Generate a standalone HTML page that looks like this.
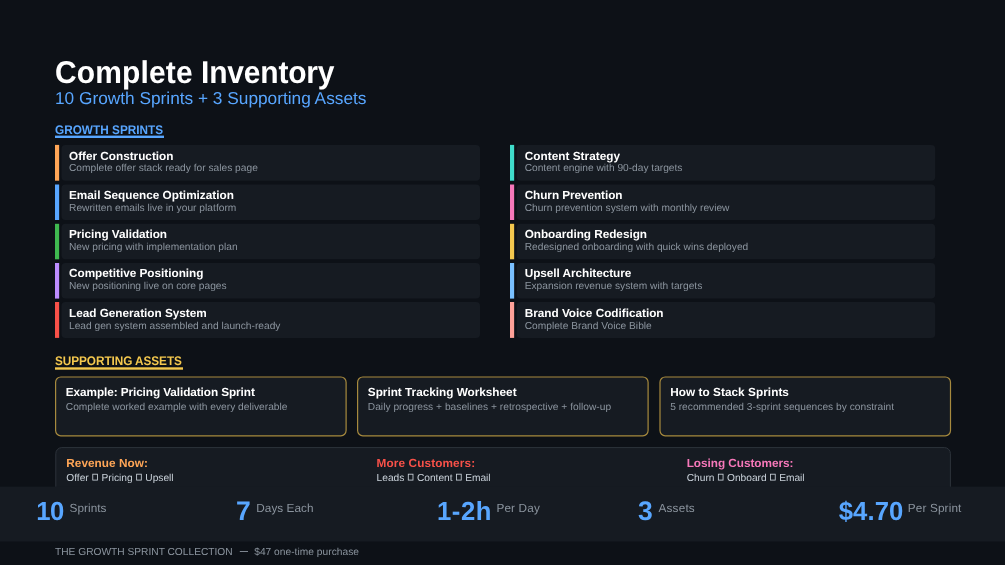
<!DOCTYPE html>
<html><head><meta charset="utf-8"><title>Complete Inventory</title>
<style>
*{margin:0;padding:0}
html,body{width:1005px;height:565px;overflow:hidden;background:#0d1117}
#w{position:absolute;left:0;top:0;width:1005px;height:565px;will-change:transform}
svg{display:block}
text{font-family:"Liberation Sans",sans-serif;white-space:pre}
</style></head><body><div id="w">
<svg width="1005" height="565" viewBox="0 0 1005 565" text-rendering="geometricPrecision">
<rect x="0" y="0" width="1005" height="565" fill="#0d1117"/>
<rect x="55.00" y="135.60" width="109.00" height="2.40" fill="#58a6ff"/>
<rect x="55.00" y="144.90" width="4.15" height="35.80" fill="#ffa657"/>
<rect x="61.50" y="144.90" width="418.50" height="35.80" rx="4" fill="#161b22"/>
<rect x="55.00" y="184.50" width="4.15" height="35.50" fill="#58a6ff"/>
<rect x="61.50" y="184.50" width="418.50" height="35.50" rx="4" fill="#161b22"/>
<rect x="55.00" y="223.80" width="4.15" height="35.50" fill="#3fb950"/>
<rect x="61.50" y="223.80" width="418.50" height="35.50" rx="4" fill="#161b22"/>
<rect x="55.00" y="263.00" width="4.15" height="35.60" fill="#bc8cff"/>
<rect x="61.50" y="263.00" width="418.50" height="35.60" rx="4" fill="#161b22"/>
<rect x="55.00" y="302.00" width="4.15" height="35.90" fill="#f85149"/>
<rect x="61.50" y="302.00" width="418.50" height="35.90" rx="4" fill="#161b22"/>
<rect x="510.00" y="144.90" width="4.15" height="35.80" fill="#3fdccb"/>
<rect x="516.70" y="144.90" width="418.50" height="35.80" rx="4" fill="#161b22"/>
<rect x="510.00" y="184.50" width="4.15" height="35.50" fill="#f778ba"/>
<rect x="516.70" y="184.50" width="418.50" height="35.50" rx="4" fill="#161b22"/>
<rect x="510.00" y="223.80" width="4.15" height="35.50" fill="#f4c84e"/>
<rect x="516.70" y="223.80" width="418.50" height="35.50" rx="4" fill="#161b22"/>
<rect x="510.00" y="263.00" width="4.15" height="35.60" fill="#79c0ff"/>
<rect x="516.70" y="263.00" width="418.50" height="35.60" rx="4" fill="#161b22"/>
<rect x="510.00" y="302.00" width="4.15" height="35.90" fill="#ffa198"/>
<rect x="516.70" y="302.00" width="418.50" height="35.90" rx="4" fill="#161b22"/>
<rect x="55.00" y="367.30" width="128.00" height="2.40" fill="#f4c84e"/>
<rect x="55.60" y="377.00" width="290.50" height="58.80" rx="5.2" fill="#161b22" stroke="#a78a3e" stroke-width="1.2"/>
<rect x="357.60" y="377.00" width="290.50" height="58.80" rx="5.2" fill="#161b22" stroke="#a78a3e" stroke-width="1.2"/>
<rect x="660.00" y="377.00" width="290.50" height="58.80" rx="5.2" fill="#161b22" stroke="#a78a3e" stroke-width="1.2"/>
<rect x="55.80" y="447.60" width="894.60" height="60.00" rx="6" fill="#161b22" stroke="#2d333b" stroke-width="1.0"/>
<text x="55.00" y="83.30" font-size="30.0" font-weight="bold" fill="#ffffff" letter-spacing="0.132" transform="translate(0 83.30) scale(1 1.05) translate(0 -83.30)">Complete</text>
<text x="201.00" y="83.30" font-size="30.0" font-weight="bold" fill="#ffffff" letter-spacing="-0.191" transform="translate(0 83.30) scale(1 1.05) translate(0 -83.30)">Inventory</text>
<text x="55.00" y="103.90" font-size="17.27" fill="#58a6ff">10 Growth Sprints + 3 Supporting Assets</text>
<text x="55.00" y="133.70" font-size="11.78" font-weight="bold" fill="#58a6ff" letter-spacing="0.023" transform="translate(0 133.70) scale(1 1.055) translate(0 -133.70)">GROWTH SPRINTS</text>
<text x="69.00" y="159.50" font-size="11.78" font-weight="bold" fill="#ffffff" letter-spacing="-0.009">Offer Construction</text>
<text x="69.00" y="171.30" font-size="10.2" fill="#8b949e" letter-spacing="0.011">Complete offer stack ready for sales page</text>
<text x="69.00" y="198.80" font-size="11.78" font-weight="bold" fill="#ffffff" letter-spacing="0.005">Email Sequence Optimization</text>
<text x="69.00" y="210.60" font-size="10.2" fill="#8b949e" letter-spacing="0.024">Rewritten emails live in your platform</text>
<text x="69.00" y="238.10" font-size="11.78" font-weight="bold" fill="#ffffff" letter-spacing="-0.039">Pricing Validation</text>
<text x="69.00" y="249.90" font-size="10.2" fill="#8b949e" letter-spacing="0.013">New pricing with implementation plan</text>
<text x="69.00" y="277.40" font-size="11.78" font-weight="bold" fill="#ffffff" letter-spacing="-0.009">Competitive Positioning</text>
<text x="69.00" y="289.20" font-size="10.2" fill="#8b949e" letter-spacing="0.006">New positioning live on core pages</text>
<text x="69.00" y="316.70" font-size="11.78" font-weight="bold" fill="#ffffff" letter-spacing="-0.012">Lead Generation System</text>
<text x="69.00" y="328.50" font-size="10.2" fill="#8b949e" letter-spacing="0.004">Lead gen system assembled and launch-ready</text>
<text x="524.70" y="159.50" font-size="11.78" font-weight="bold" fill="#ffffff" letter-spacing="0.039">Content Strategy</text>
<text x="524.70" y="171.30" font-size="10.2" fill="#8b949e" letter-spacing="-0.008">Content engine with 90-day targets</text>
<text x="524.70" y="198.80" font-size="11.78" font-weight="bold" fill="#ffffff" letter-spacing="-0.063">Churn Prevention</text>
<text x="524.70" y="210.60" font-size="10.2" fill="#8b949e" letter-spacing="-0.006">Churn prevention system with monthly review</text>
<text x="524.70" y="238.10" font-size="11.78" font-weight="bold" fill="#ffffff" letter-spacing="-0.034">Onboarding Redesign</text>
<text x="524.70" y="249.90" font-size="10.2" fill="#8b949e" letter-spacing="0.009">Redesigned onboarding with quick wins deployed</text>
<text x="524.70" y="277.40" font-size="11.78" font-weight="bold" fill="#ffffff" letter-spacing="-0.044">Upsell Architecture</text>
<text x="524.70" y="289.20" font-size="10.2" fill="#8b949e" letter-spacing="0.010">Expansion revenue system with targets</text>
<text x="524.70" y="316.70" font-size="11.78" font-weight="bold" fill="#ffffff" letter-spacing="-0.007">Brand Voice Codification</text>
<text x="524.70" y="328.50" font-size="10.2" fill="#8b949e" letter-spacing="0.008">Complete Brand Voice Bible</text>
<text x="55.00" y="364.70" font-size="11.78" font-weight="bold" fill="#f4c84e" letter-spacing="-0.050" transform="translate(0 364.70) scale(1 1.055) translate(0 -364.70)">SUPPORTING ASSETS</text>
<text x="65.80" y="396.00" font-size="11.78" font-weight="bold" fill="#ffffff" letter-spacing="-0.077">Example: Pricing Validation Sprint</text>
<text x="65.80" y="410.40" font-size="10.2" fill="#8b949e" letter-spacing="0.005">Complete worked example with every deliverable</text>
<text x="367.80" y="396.00" font-size="11.78" font-weight="bold" fill="#ffffff" letter-spacing="-0.004">Sprint Tracking Worksheet</text>
<text x="367.80" y="410.40" font-size="10.2" fill="#8b949e" letter-spacing="0.023">Daily progress + baselines + retrospective + follow-up</text>
<text x="670.20" y="396.00" font-size="11.78" font-weight="bold" fill="#ffffff" letter-spacing="0.055">How to Stack Sprints</text>
<text x="670.20" y="410.40" font-size="10.2" fill="#8b949e" letter-spacing="0.015">5 recommended 3-sprint sequences by constraint</text>
<text x="66.30" y="466.55" font-size="11.78" font-weight="bold" fill="#ffa657" letter-spacing="0.045">Revenue Now:</text>
<text x="66.30" y="480.5" font-size="10.2" fill="#c9d1d9">Offer</text>
<rect x="92.77" y="474.20" width="4.7" height="5.9" fill="none" stroke="#c9d1d9" stroke-width="0.85"/>
<text x="101.47" y="480.5" font-size="10.2" fill="#c9d1d9">Pricing</text>
<rect x="136.62" y="474.20" width="4.7" height="5.9" fill="none" stroke="#c9d1d9" stroke-width="0.85"/>
<text x="145.33" y="480.5" font-size="10.2" fill="#c9d1d9">Upsell</text>
<text x="376.60" y="466.55" font-size="11.78" font-weight="bold" fill="#f85149" letter-spacing="0.122">More Customers:</text>
<text x="376.60" y="480.5" font-size="10.2" fill="#c9d1d9">Leads</text>
<rect x="408.29" y="474.20" width="4.7" height="5.9" fill="none" stroke="#c9d1d9" stroke-width="0.85"/>
<text x="416.92" y="480.5" font-size="10.2" fill="#c9d1d9">Content</text>
<rect x="456.54" y="474.20" width="4.7" height="5.9" fill="none" stroke="#c9d1d9" stroke-width="0.85"/>
<text x="465.17" y="480.5" font-size="10.2" fill="#c9d1d9">Email</text>
<text x="686.70" y="466.55" font-size="11.78" font-weight="bold" fill="#f778ba" letter-spacing="-0.029">Losing Customers:</text>
<text x="686.70" y="480.5" font-size="10.2" fill="#c9d1d9">Churn</text>
<rect x="718.36" y="474.20" width="4.7" height="5.9" fill="none" stroke="#c9d1d9" stroke-width="0.85"/>
<text x="726.98" y="480.5" font-size="10.2" fill="#c9d1d9">Onboard</text>
<rect x="770.55" y="474.20" width="4.7" height="5.9" fill="none" stroke="#c9d1d9" stroke-width="0.85"/>
<text x="779.16" y="480.5" font-size="10.2" fill="#c9d1d9">Email</text>
<rect x="0.00" y="486.60" width="1005.00" height="54.90" fill="#161b22"/>
<text x="36.15" y="519.50" font-size="25.7" font-weight="bold" fill="#58a6ff" letter-spacing="-0.371" transform="translate(0 519.50) scale(1 1.015) translate(0 -519.50)">10</text>
<text x="69.59" y="511.90" font-size="11.78" fill="#8b949e" letter-spacing="0.051">Sprints</text>
<text x="236.12" y="519.50" font-size="26.5" font-weight="bold" fill="#58a6ff" transform="translate(0 519.50) scale(1 1.015) translate(0 -519.50)">7</text>
<text x="256.27" y="511.90" font-size="11.78" fill="#8b949e" letter-spacing="0.055">Days Each</text>
<text x="437.04" y="519.50" font-size="25.7" font-weight="bold" fill="#58a6ff" letter-spacing="0.523" transform="translate(0 519.50) scale(1 1.015) translate(0 -519.50)">1-2h</text>
<text x="496.41" y="511.90" font-size="11.78" fill="#8b949e" letter-spacing="0.153">Per Day</text>
<text x="638.01" y="519.50" font-size="26.5" font-weight="bold" fill="#58a6ff" transform="translate(0 519.50) scale(1 1.015) translate(0 -519.50)">3</text>
<text x="658.49" y="511.90" font-size="11.78" fill="#8b949e" letter-spacing="0.186">Assets</text>
<text x="838.79" y="519.50" font-size="25.7" font-weight="bold" fill="#58a6ff" letter-spacing="0.053" transform="translate(0 519.50) scale(1 1.015) translate(0 -519.50)">$4.70</text>
<text x="907.85" y="511.90" font-size="11.78" fill="#8b949e" letter-spacing="0.135">Per Sprint</text>
<text x="55.00" y="554.50" font-size="10.2" fill="#8b949e" letter-spacing="0.004">THE GROWTH SPRINT COLLECTION</text>
<text x="254.20" y="554.50" font-size="10.2" fill="#8b949e" letter-spacing="0.027">$47 one-time purchase</text>
<rect x="239.80" y="551.00" width="8.20" height="0.90" fill="#8b949e"/>
</svg></div></body></html>
